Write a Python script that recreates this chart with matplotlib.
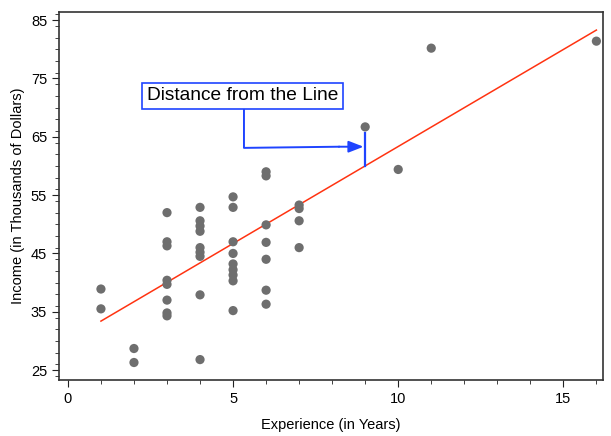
import numpy as np
import matplotlib.pyplot as plt
from matplotlib.ticker import MultipleLocator

plt.rcParams['font.family'] = ['Liberation Sans', 'DejaVu Sans']

# =============================================================================
# Data
# =============================================================================
experience = [1, 1,
              2, 2,
              3, 3, 3, 3, 3, 3, 3, 3,
              4, 4, 4, 4, 4, 4, 4, 4, 4,
              5, 5, 5, 5, 5, 5, 5, 5, 5,
              6, 6, 6, 6, 6, 6, 6,
              7, 7, 7, 7,
              9, 10, 11, 16]
income = [38.9, 35.5,
          28.7, 26.3,
          52.0, 47.0, 46.3, 40.4, 39.7, 37.0, 34.8, 34.3,
          52.9, 50.6, 49.7, 48.8, 46.0, 45.2, 44.5, 37.9, 26.8,
          54.7, 52.9, 47.0, 45.0, 43.2, 42.2, 41.3, 40.3, 35.2,
          59.0, 58.3, 49.9, 46.9, 44.0, 38.7, 36.3,
          53.3, 52.7, 50.6, 46.0,
          66.7, 59.4, 80.2, 81.4]

# fitted line (intercept, slope) and its x extent
fit_intercept, fit_slope = 30.07, 3.327
fit_x = [1, 16]

# highlighted point
hl_x, hl_y = 9, 66.7

# =============================================================================
# Plot
# =============================================================================
fig = plt.figure(figsize=(6.11, 4.36), dpi=100)
ax = fig.add_axes([59 / 611, 1 - 380 / 436, 544 / 611, 368 / 436])

fx = np.array(fit_x, dtype=float)
ax.plot(fx, fit_intercept + fit_slope * fx, color='#ff3311', lw=1.1, zorder=2)

ax.scatter(experience, income, s=44, color='#6e6e6e', edgecolors='none', zorder=3)

# distance segment from point to line
line_at_hl = fit_intercept + fit_slope * hl_x
ax.plot([hl_x, hl_x], [hl_y - 1.0, line_at_hl], color='#1f44ff', lw=1.6, zorder=4)

# annotation box with elbow connector
ax.text(5.3, 72.0, 'Distance from the Line', fontsize=13.8, ha='center', va='center',
        bbox=dict(boxstyle='square,pad=0.25', fc='white', ec='#1f44ff', lw=1.2), zorder=5)
ax.plot([5.33, 5.33, 8.2], [69.8, 63.1, 63.3], color='#1f44ff', lw=1.4, zorder=4)
ax.annotate('', xy=(8.95, 63.3), xytext=(8.2, 63.3),
            arrowprops=dict(arrowstyle='-|>,head_length=0.9,head_width=0.35',
                            color='#1f44ff', lw=1.4, shrinkA=0, shrinkB=0), zorder=4)

ax.set_xlim(-0.27, 16.2)
ax.set_ylim(23.3, 86.4)
ax.xaxis.set_major_locator(MultipleLocator(5))
ax.xaxis.set_minor_locator(MultipleLocator(1))
ax.yaxis.set_minor_locator(MultipleLocator(2))
ax.set_yticks([25, 35, 45, 55, 65, 75, 85])
ax.tick_params(which='major', length=5, labelsize=10.5, color='#222222')
ax.tick_params(which='minor', length=3, color='#222222')
for s in ax.spines.values():
    s.set_color('#333333')
    s.set_linewidth(1.2)

ax.set_xlabel('Experience (in Years)', fontsize=10.5, labelpad=9)
ax.set_ylabel('Income (in Thousands of Dollars)', fontsize=10.5, labelpad=4)

fig.savefig('out.png', dpi=100)
